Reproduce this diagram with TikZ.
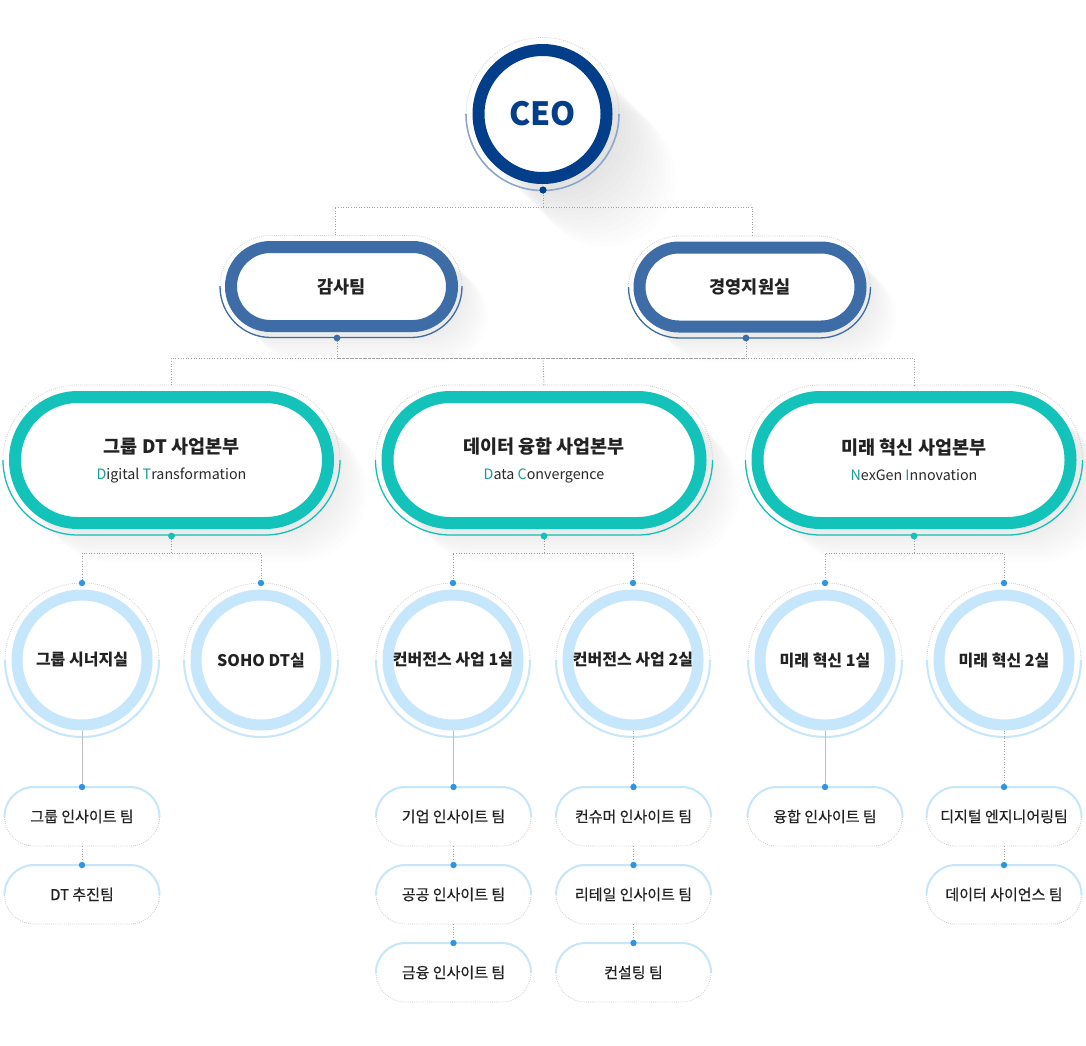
\documentclass[tikz,border=0pt]{standalone}
\usepackage{fontspec}
\setmainfont{Noto Sans CJK KR}
\newfontfamily\medfont[FakeBold=0.4]{Noto Sans CJK KR}
\usetikzlibrary{calc}
\definecolor{ceoc}{HTML}{023E8A}
\definecolor{ceolight}{HTML}{8CA6CC}
\definecolor{l2c}{HTML}{3D6CA6}
\definecolor{tealc}{HTML}{13C2B8}
\definecolor{tealtxt}{HTML}{179E96}
\definecolor{lbluec}{HTML}{C6E6FB}
\definecolor{dotblue}{HTML}{2E95E2}
\definecolor{txtc}{HTML}{222222}
\definecolor{subtxt}{HTML}{2A2A2A}
\definecolor{connc}{HTML}{A0A0A0}
\definecolor{decoc}{HTML}{CCCCCC}
\tikzset{
 conn/.style={draw=connc, line width=0.9pt, dash pattern=on 1pt off 1.6pt},
 sconn/.style={draw=black!25, line width=1pt},
 decoline/.style={draw=decoc, line width=0.8pt, dash pattern=on 0.8pt off 1.3pt},
 ceobox/.style={circle, draw=ceoc, line width=12pt, minimum size=128pt, fill=white, text=ceoc, font=\bfseries\fontsize{32}{32}\selectfont},
 l2box/.style={rectangle, rounded corners=39.5pt, minimum width=221pt, minimum height=79pt, draw=l2c, line width=12pt, fill=white, text=txtc, font=\bfseries\fontsize{17.5}{20}\selectfont},
 l3box/.style={rectangle, rounded corners=63pt, minimum width=313pt, minimum height=126pt, draw=tealc, line width=12pt, fill=white, text=txtc, align=center, font=\fontsize{18.5}{26}\selectfont},
 deptbox/.style={circle, draw=lbluec, line width=11pt, minimum size=130pt, fill=white, text=txtc, font=\bfseries\fontsize{16}{18}\selectfont},
 teambox/.style={rectangle, rounded corners=29.5pt, minimum width=155pt, minimum height=59pt, outer sep=0pt, draw=decoc, line width=0.8pt, dash pattern=on 0.8pt off 1.3pt, fill=white, text=txtc, font=\medfont\fontsize{15}{17}\selectfont},
}
\newcommand\tcol[1]{\textcolor{tealtxt}{#1}}
\newcommand\subline[1]{{\fontsize{14.3}{26}\selectfont\color{subtxt}#1}}
% cx cy hw hh colourstyle
\newcommand\pilldeco[5]{%
 \draw[decoline, rounded corners=#4pt] ({#1-#3},{#2-#4}) rectangle ({#1+#3},{#2+#4});
 \begin{scope}
  \clip ({#1-#3-4},{#2}) rectangle ({#1+#3+4},{#2+#4+4});
  \draw[#5, rounded corners=#4pt] ({#1-#3},{#2-#4}) rectangle ({#1+#3},{#2+#4});
 \end{scope}}
% cx cy r colourstyle
\newcommand\circdeco[4]{%
 \draw[decoline] (#1,#2) circle (#3pt);
 \begin{scope}
  \clip ({#1-#3-4},{#2}) rectangle ({#1+#3+4},{#2+#3+4});
  \draw[#4] (#1,#2) circle (#3pt);
 \end{scope}}
% cx cy hw hh N step
\newcommand\pillshadow[6]{%
 \foreach \k in {1,...,#5}{%
  \fill[black, opacity=0.007, rounded corners=#4pt] ({#1-#3+\k*#6},{#2-#4+\k*#6}) rectangle ({#1+#3+\k*#6},{#2+#4+\k*#6});}}
% name cx text
\newcommand\mydept[3]{%
 \node[deptbox] (#1) at (#2,660) {#3};
 \circdeco{#2}{660}{77}{draw=lbluec, line width=2pt}
 \coordinate (#1D) at (#2,583);}
% name cx cy text
\newcommand\myteam[4]{%
 \node[teambox] (#1) at (#2,#3) {#4};
 \begin{scope}
  \clip ([xshift=-4pt]#1.west) rectangle ([xshift=4pt,yshift=4pt]#1.north east);
  \draw[draw=lbluec, line width=2pt, rounded corners=29.5pt] (#1.south west) rectangle (#1.north east);
 \end{scope}}
\begin{document}
\begin{tikzpicture}[x=1pt,y=-1pt]
\useasboundingbox[fill=white] (0,0) rectangle (1086,1045);
% ---------- shadows
\foreach \k in {1,...,14}{\fill[black, opacity=0.006] ({542.5+\k*4.5},{114+\k*4.5}) circle (70pt);}
\pillshadow{341.5}{286.5}{116.5}{45.5}{10}{3}
\pillshadow{750}{287}{116.5}{45.5}{10}{3}
\pillshadow{171.5}{460}{162.5}{69}{10}{3.3}
\pillshadow{544}{460}{162.5}{69}{10}{3.3}
\pillshadow{914}{460}{162.5}{69}{10}{3.3}
% ---------- junction coordinates
\coordinate (ceoD) at (543,190);
\coordinate (b1) at (543,207);
\coordinate (b2) at (543,358);
\coordinate (gamsaD) at (337,338);
\coordinate (gyeongD) at (746,338);
\coordinate (div1D) at (171.5,536);
\coordinate (div2D) at (544,536);
\coordinate (div3D) at (914,536);
\coordinate (b31) at (171.5,553);
\coordinate (b32) at (544,553);
\coordinate (b33) at (914,553);
% ---------- nodes
\node[ceobox] (ceo) at (542.5,114) {CEO};
\circdeco{542.5}{114}{76.5}{draw=ceolight, line width=1.6pt}
\node[l2box] (gamsa) at (341.5,286.5) {감사팀};
\pilldeco{341}{286.5}{121}{51}{draw=l2c, line width=1.3pt}
\node[l2box] (gyeong) at (750,287) {경영지원실};
\pilldeco{749.5}{287}{121}{51}{draw=l2c, line width=1.3pt}
\node[l3box] (div1) at (171.5,460) {\textbf{그룹 DT 사업본부}\\\subline{\tcol{D}igital \tcol{T}ransformation}};
\pilldeco{171.5}{460}{168.5}{75}{draw=tealc, line width=1.3pt}
\node[l3box] (div2) at (544,460) {\textbf{데이터 융합 사업본부}\\\subline{\tcol{D}ata \tcol{C}onvergence}};
\pilldeco{544}{460}{168.5}{75}{draw=tealc, line width=1.3pt}
\node[l3box] (div3) at (914,460) {\textbf{미래 혁신 사업본부}\\\subline{\tcol{N}exGen \tcol{I}nnovation}};
\pilldeco{914}{460}{168.5}{75}{draw=tealc, line width=1.3pt}
\mydept{c11}{82}{그룹 시너지실}
\mydept{c12}{261}{SOHO DT실}
\mydept{c21}{453}{컨버전스 사업 1실}
\mydept{c22}{633}{컨버전스 사업 2실}
\mydept{c31}{825}{미래 혁신 1실}
\mydept{c32}{1004}{미래 혁신 2실}
\myteam{t11}{82}{816.5}{그룹 인사이트 팀}
\myteam{t12}{82}{894.5}{DT 추진팀}
\myteam{t21}{453.5}{816.5}{기업 인사이트 팀}
\myteam{t22}{453.5}{894.5}{공공 인사이트 팀}
\myteam{t23}{453.5}{972.5}{금융 인사이트 팀}
\myteam{t31}{633.5}{816.5}{컨슈머 인사이트 팀}
\myteam{t32}{633.5}{894.5}{리테일 인사이트 팀}
\myteam{t33}{633.5}{972.5}{컨설팅 팀}
\myteam{t41}{825}{816.5}{융합 인사이트 팀}
\myteam{t51}{1004}{816.5}{디지털 엔지니어링팀}
\myteam{t52}{1004}{894.5}{데이터 사이언스 팀}
% ---------- connectors
\draw[conn] (ceoD) -- (b1) -| ([xshift=-6.5pt,yshift=5pt]gamsa.north);
\draw[conn] (b1) -| ([xshift=2pt,yshift=5pt]gyeong.north);
\draw[conn] (gamsaD) |- (b2);
\draw[conn] (gyeongD) |- (b2);
\draw[conn] (b2) -| ([yshift=5pt]div1.north);
\draw[conn] (b2) -| ([yshift=5pt]div3.north);
\draw[conn] (b2) -- ([yshift=5pt]div2.north);
\draw[conn] (div1D) -- (b31) -| (c11D);
\draw[conn] (b31) -| (c12D);
\draw[conn] (div2D) -- (b32) -| (c21D);
\draw[conn] (b32) -| (c22D);
\draw[conn] (div3D) -- (b33) -| (c31D);
\draw[conn] (b33) -| (c32D);
\draw[sconn] (c11.south) -- (c11.south |- t11.north);
\draw[sconn] (c21.south) -- (c21.south |- t21.north);
\draw[conn] (c22.south) -- (c22.south |- t31.north);
\draw[sconn] (c31.south) -- (c31.south |- t41.north);
\draw[conn] (c32.south) -- (c32.south |- t51.north);
\draw[conn] (t11.south) -- (t12.north);
\draw[conn] (t21.south) -- (t22.north);
\draw[conn] (t22.south) -- (t23.north);
\draw[conn] (t31.south) -- (t32.north);
\draw[conn] (t32.south) -- (t33.north);
\draw[conn] (t51.south) -- (t52.north);
% ---------- dots
\fill[ceoc] (ceoD) circle (3.6pt);
\fill[l2c] (gamsaD) circle (3.4pt);
\fill[l2c] (gyeongD) circle (3.4pt);
\foreach \d in {div1D,div2D,div3D}{\fill[tealc] (\d) circle (3.4pt);}
\foreach \d in {c11D,c12D,c21D,c22D,c31D,c32D}{\fill[dotblue] (\d) circle (3.2pt);}
\foreach \t in {t11,t12,t21,t22,t23,t31,t32,t33,t41,t51,t52}{\fill[dotblue] (\t.north) circle (3.2pt);}
\end{tikzpicture}
\end{document}
